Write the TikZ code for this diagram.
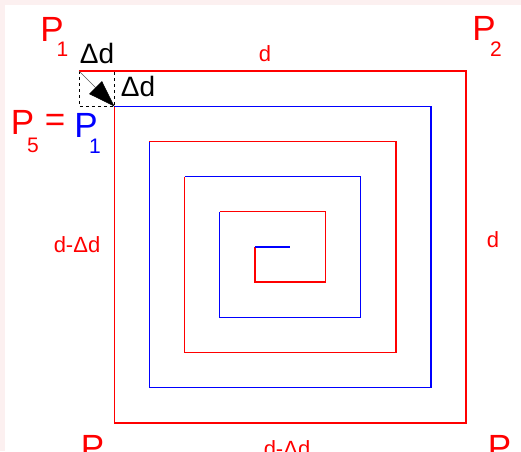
\documentclass[tikz,border=0pt]{standalone}
\usepackage{fontspec}
\setmainfont{Liberation Sans}
\usetikzlibrary{arrows.meta}
\definecolor{bgpink}{RGB}{252,240,240}
\begin{document}
\begin{tikzpicture}[x=1pt,y=-1pt,
  redline/.style={draw=red,line width=1.4pt,line join=miter},
  blueline/.style={draw=blue,line width=1.4pt,line join=miter},
  bigP/.style={inner sep=0pt,font=\fontsize{35}{35}\selectfont},
  subnum/.style={inner sep=0pt,font=\fontsize{21}{21}\selectfont},
  dlabel/.style={inner sep=0pt,text=red,font=\fontsize{22}{22}\selectfont},
  deltalabel/.style={inner sep=0pt,text=black,font=\fontsize{28}{28}\selectfont}]
\useasboundingbox (0,0) rectangle (521,451);
\fill[bgpink] (0,0) rectangle (521,451);
\fill[white] (5,5) rectangle (521,451);
\clip (0,0) rectangle (521,451);
% dashed helper box
\draw[black,dashed,line width=0.6pt] (79,71) rectangle (114.2,106.2);
% spiral
\draw[redline] (79,71) -- (466,71) -- (466,423) -- (114.2,423) -- (114.2,106.2);
\draw[blueline] (114.2,106.2) -- (431,106.2) -- (431,387.7) -- (149.4,387.7) -- (149.4,141.4);
\draw[redline] (149.4,141.4) -- (396,141.4) -- (396,352.5) -- (184.5,352.5) -- (184.5,176.5);
\draw[blueline] (184.5,176.5) -- (360.6,176.5) -- (360.6,317.3) -- (219.7,317.3) -- (219.7,211.7);
\draw[redline] (219.7,211.7) -- (325.4,211.7) -- (325.4,282.1) -- (254.9,282.1) -- (254.9,246.9);
\draw[blueline] (254.9,246.9) -- (290.1,246.9);
% arrow
\coordinate (arrstart) at (79,71);
\coordinate (arrend) at (114.6,106.6);
\draw[gray!70!black,line width=0.6pt,-{Triangle[length=27pt,width=18pt,color=black,fill=black]}] (arrstart) -- (arrend);
% labels
\node[bigP,text=red] (p1) at (52,29.5) {P};
\node[subnum,text=red] (p1s) at (62.5,49.5) {1};
\node[bigP,text=red] (p2) at (484,28.5) {P};
\node[subnum,text=red] (p2s) at (496,49) {2};
\node[bigP,text=red] (p5) at (22.5,122.5) {P};
\node[subnum,text=red] (p5s) at (33,145.5) {5};
\node[bigP,text=red] (eq) at (55,123) {=};
\node[bigP,text=blue] (q1) at (86,125.5) {P};
\node[subnum,text=blue] (q1s) at (95,146) {1};
\node[deltalabel] (dd1) at (97,53) {Δd};
\node[deltalabel] (dd2) at (138,86) {Δd};
\node[dlabel] (dtop) at (265,54) {d};
\node[dlabel] (dright) at (493,240) {d};
\node[dlabel] (dleft) at (77,245) {d-Δd};
\node[dlabel] (dbottom) at (287,449) {d-Δd};
\node[bigP,text=red] (p4) at (92.5,447.5) {P};
\node[bigP,text=red] (p3) at (499.5,447.5) {P};
\end{tikzpicture}
\end{document}
